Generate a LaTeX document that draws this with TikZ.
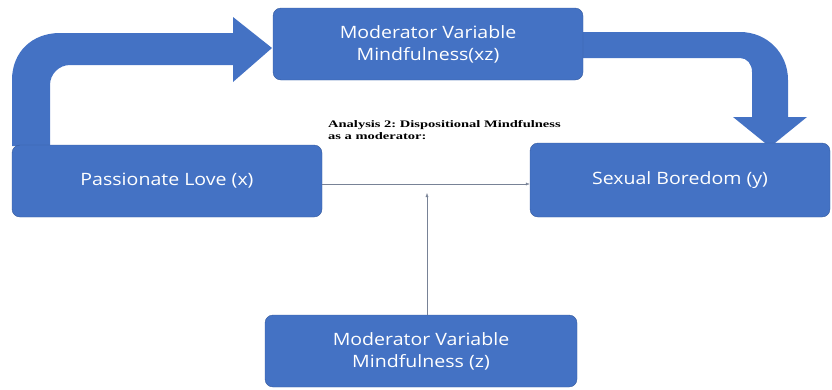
\documentclass[tikz,border=0pt]{standalone}
\usepackage{fontspec}
\setsansfont[FakeStretch=1.15]{Open Sans}
\newfontfamily\notefont[FakeStretch=1.45]{Liberation Serif}
\usepackage{tikz}
\usetikzlibrary{arrows.meta}
\usetikzlibrary{positioning}
\definecolor{boxblue}{RGB}{68,114,196}
\definecolor{thinline}{RGB}{120,130,150}
\frenchspacing

\begin{document}
\begin{tikzpicture}[
		x=1pt,y=-1pt,
		VarBox/.style={draw=boxblue!80!black,fill=boxblue,thin,rounded corners=8pt,
			text=white,align=center,minimum height=72pt,
			font=\sffamily\fontsize{17}{22}\selectfont},
		BigArrow/.style={fill=boxblue},
		ThinArrow/.style={draw=thinline,thin,-{Latex[length=4pt, width=3pt]}}
		]
		\useasboundingbox (0,0) rectangle (832,389);
		
		% broad arrows behind the boxes
		\fill[BigArrow] (12,146) -- (12,80) .. controls (12,52) and (32,33) .. (60,33)
		-- (233,33) -- (233,17) -- (272,48) -- (233,82) -- (233,65) -- (70,65)
		.. controls (59,65) and (50,74) .. (50,85) -- (50,146) -- cycle;
		
		\fill[BigArrow] (575,32) -- (740,32) .. controls (767,32) and (788,53) .. (788,80)
		-- (788,117) -- (807,117) -- (770,147) -- (733,117) -- (752,117) -- (752,72)
		.. controls (752,64) and (747,58) .. (740,58) -- (575,58) -- cycle;
		
		\node[VarBox,minimum width=310pt] (love) at (167,181) {Passionate Love (x)};
		\node[VarBox,minimum width=310pt] (modxz) at (428,44) {Moderator Variable\\Mindfulness(xz)};
		\node[VarBox,minimum width=300pt,minimum height=74pt] (bored) at (680,180) {Sexual Boredom (y)};
		\node[VarBox,minimum width=312pt] (modz) at (421,351) {Moderator Variable\\Mindfulness (z)};
		
		\node[anchor=north west,align=left,inner sep=0pt,
		font=\notefont\bfseries\fontsize{10}{12}\selectfont] (note) at (328,120)
		{Analysis 2: Dispositional Mindfulness\\as a moderator:};
		
		\coordinate (mod) at (427,193);
		
		\draw[ThinArrow] ([yshift=-3pt]love.east) -- ([yshift=-3pt]love.east -| bored.west);
		\draw[ThinArrow] (modz.north -| mod) -- (mod);
		
\end{tikzpicture}
\end{document}
